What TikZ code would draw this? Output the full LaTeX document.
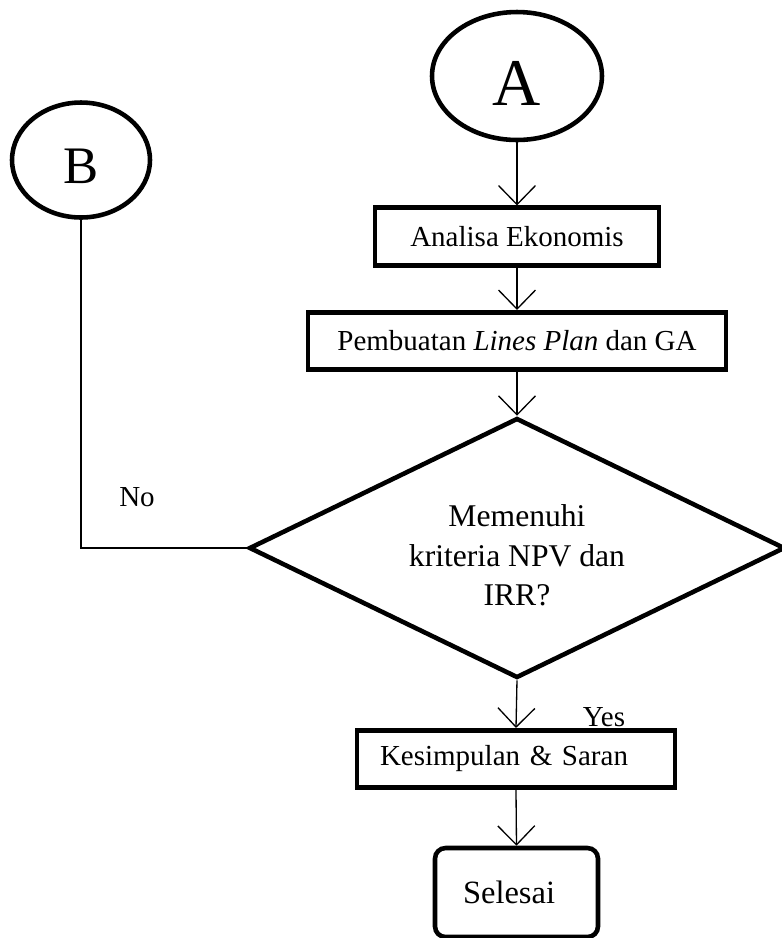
\documentclass[tikz,border=0pt]{standalone}
\usepackage{fontspec}
\setmainfont{Liberation Serif}
\usepackage{tikz}
\usetikzlibrary{positioning,arrows.meta,shapes.geometric}
\definecolor{garis}{RGB}{0,0,0}
\tikzset{
  >={Straight Barb[length=3.8mm, width=7.4mm]},
  teks/.style={font=\fontsize{16.5}{22.5}\selectfont},
  kotak/.style={draw=garis, line width=2.6pt, rectangle, align=center, teks,
    inner sep=2pt, minimum height=1.15cm, minimum width=#1},
  kotak/.default=5.7cm,
  lingkaran/.style={draw=garis, line width=2.6pt, ellipse, inner sep=0pt},
  belah/.style={draw=garis, line width=2.6pt, diamond, aspect=2, align=center,
    font=\fontsize{18}{22.5}\selectfont,
    inner sep=0pt, minimum width=10.72cm, minimum height=5.2cm},
  akhir/.style={kotak=#1, rounded corners=6pt},
  panah/.style={->, line width=0.75pt, draw=garis},
  garisan/.style={line width=0.75pt, draw=garis},
}
\begin{document}
\begin{tikzpicture}[x=0.02cm, y=-0.02cm]
    \useasboundingbox (0,0) rectangle (782,938);
    % Penghubung
    \node[lingkaran, minimum width=3.4cm, minimum height=2.56cm,
      font=\fontsize{38}{40}\selectfont, text height=34pt, text depth=0pt] (A) at (517,76) {A};
    \node[lingkaran, minimum width=2.76cm, minimum height=2.3cm,
      font=\fontsize{30}{32}\selectfont, text height=27pt, text depth=0pt] (B) at (81,160) {B};
    % Proses
    \node[kotak=5.68cm] (analisa) at (517,236.5) {Analisa Ekonomis};
    \node[kotak=8.36cm] (gambar) at (517,341) {Pembuatan \textit{Lines Plan} dan GA};
    \node[belah] (cek) at (517,548) {\rule{0pt}{21pt}Memenuhi\\ kriteria NPV dan\\ IRR?};
    \node[kotak=6.36cm, align=left, inner xsep=0.46cm, text width=5.44cm] (simpul) at (516,759) {Kesimpulan \& Saran};
    \node[akhir=3.26cm, minimum height=1.78cm, align=left, inner xsep=0.56cm, text width=2.14cm,
      font=\fontsize{18.5}{22.5}\selectfont] (selesai) at (516.5,892.5) {Selesai};
    % Panah
    \draw[panah] (A.south) -- (analisa.north);
    \draw[panah] (analisa.south) -- (gambar.north);
    \draw[panah] (gambar.south) -- (cek.north);
    \draw[panah] (cek.south) -- (simpul.north);
    \draw[panah] (simpul.south) -- (selesai.north);
    \draw[garisan] (B.south) |- (cek.west);
    % Label
    \node[teks] (tidak) at (137,497) {No};
    \node[teks] (ya) at (604,717) {Yes};
  \end{tikzpicture}
\end{document}
